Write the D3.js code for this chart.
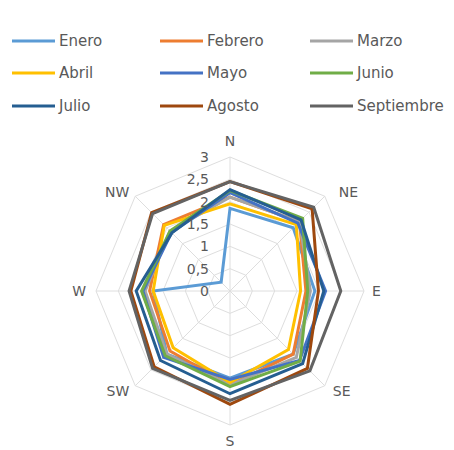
<!DOCTYPE html>
<html><head><meta charset="utf-8">
<script src="https://cdn.jsdelivr.net/npm/d3@7"></script>
<style>body{margin:0;background:#fff;}svg{display:block;font-family:"DejaVu Sans",Verdana,sans-serif;}</style>
</head><body>
<svg id="chart" width="454" height="450"></svg>
<script>
const directions = ["N","NE","E","SE","S","SW","W","NW"];
const months = ["Enero","Febrero","Marzo","Abril","Mayo","Junio","Julio","Agosto","Septiembre"];
const colors = ["#5B9BD5","#ED7D31","#A5A5A5","#FFC000","#4472C4","#70AD47","#255E91","#9E480E","#636363"];
const ticks = [0,0.5,1,1.5,2,2.5,3];
const tickLabels = ["0","0,5","1","1,5","2","2,5","3"];
const enero      = [1.85,2.00,1.90,2.00,1.95,2.00,1.72,0.28];
const febrero    = [2.10,2.20,1.70,2.00,2.10,1.90,1.80,2.10];
const marzo      = [2.10,2.20,1.80,2.10,2.10,2.00,1.90,1.90];
const abril      = [1.95,2.10,1.58,1.85,2.05,1.80,1.72,2.08];
const mayo       = [2.20,2.15,2.14,2.20,1.98,2.10,1.95,1.85];
const junio      = [2.25,2.30,1.74,2.22,2.14,2.05,1.98,1.90];
const julio      = [2.27,2.25,2.10,2.30,2.30,2.20,2.10,1.84];
const agosto     = [2.45,2.60,1.98,2.45,2.54,2.40,2.22,2.48];
const septiembre = [2.45,2.65,2.48,2.53,2.45,2.45,2.26,2.45];
const seriesValues = [enero,febrero,marzo,abril,mayo,junio,julio,agosto,septiembre];

const svg = d3.select("#chart");
const cx = 230, cy = 291, R = 134;
const r = d3.scaleLinear().domain([0,3]).range([0,R]);
const ang = d3.scalePoint().domain(directions).range([0, 2*Math.PI*7/8]);
const pt = (d, v) => { const a = ang(d); return [cx + r(v)*Math.sin(a), cy - r(v)*Math.cos(a)]; };

// grid
const g = svg.append("g");
ticks.slice(1).forEach(t => {
  g.append("polygon")
   .attr("points", directions.map(d => pt(d,t).join(",")).join(" "))
   .attr("fill","none").attr("stroke","#DEDEDE").attr("stroke-width",1);
});
directions.forEach(d => {
  const p = pt(d,3);
  g.append("line").attr("x1",cx).attr("y1",cy).attr("x2",p[0]).attr("y2",p[1])
   .attr("stroke","#DEDEDE").attr("stroke-width",1);
});

// series
const line = d3.lineRadial().angle(d => d.a).radius(d => r(d.v)).curve(d3.curveLinearClosed);
seriesValues.forEach((vals, i) => {
  svg.append("path")
    .attr("transform", `translate(${cx},${cy})`)
    .attr("d", line(directions.map((d,j) => ({a: ang(d), v: vals[j]}))))
    .attr("fill","none").attr("stroke", colors[i]).attr("stroke-width", 3)
    .attr("stroke-linejoin","miter");
});

// tick labels
ticks.forEach((t,i) => {
  svg.append("text").attr("x", cx - 21).attr("y", cy - r(t))
    .attr("dy","0.35em").attr("text-anchor","end")
    .attr("font-size",14).attr("fill","#595959").text(tickLabels[i]);
});

// direction labels
const offs = {N:[0,-16,"middle"],NE:[14,-4,"start"],E:[8,0,"start"],SE:[8,5,"start"],
              S:[0,16,"middle"],SW:[-6,5,"end"],W:[-10,0,"end"],NW:[-6,-4,"end"]};
directions.forEach(d => {
  const p = pt(d,3), o = offs[d];
  svg.append("text").attr("x", p[0]+o[0]).attr("y", p[1]+o[1]).attr("dy","0.35em")
    .attr("text-anchor", o[2]).attr("font-size",14).attr("fill","#595959").text(d);
});

// legend
const colX = [12,160,310], rowY = [41,73,106];
months.forEach((m,i) => {
  const x = colX[i%3], y = rowY[Math.floor(i/3)];
  svg.append("line").attr("x1",x).attr("x2",x+43).attr("y1",y).attr("y2",y)
    .attr("stroke",colors[i]).attr("stroke-width",3);
  svg.append("text").attr("x",x+47).attr("y",y).attr("dy","0.35em")
    .attr("font-size",15).attr("fill","#595959").text(m);
});
</script>
</body></html>
